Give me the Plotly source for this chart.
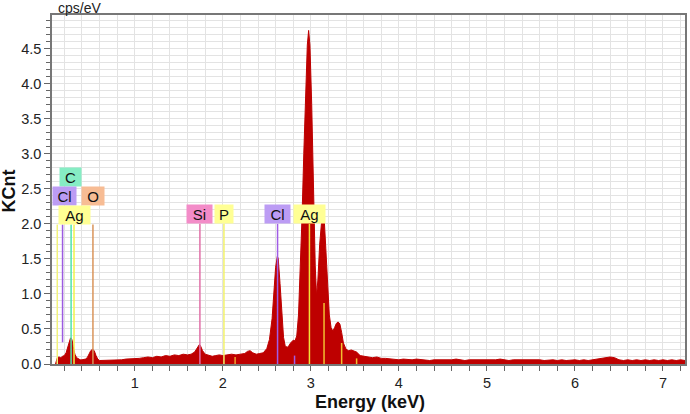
import plotly.graph_objects as go

# ---- spectrum ----
energy = [0.10, 0.12, 0.14, 0.16, 0.18, 0.20, 0.22, 0.24, 0.26, 0.27, 0.28, 0.29, 0.30, 0.32, 0.34,
          0.36, 0.38, 0.40, 0.42, 0.44, 0.46, 0.48, 0.50, 0.52, 0.54, 0.56, 0.58, 0.60, 0.65, 0.70,
          0.75, 0.80, 0.85, 0.90, 0.95, 1.00, 1.05, 1.10, 1.15, 1.20, 1.25, 1.30, 1.35, 1.40, 1.45,
          1.50, 1.55, 1.60, 1.64, 1.68, 1.70, 1.72, 1.735, 1.75, 1.77, 1.80, 1.84, 1.88, 1.92, 1.96,
          2.00, 2.05, 2.10, 2.15, 2.20, 2.25, 2.28, 2.31, 2.34, 2.38, 2.42, 2.46, 2.50, 2.53, 2.56,
          2.58, 2.60, 2.62, 2.63, 2.65, 2.67, 2.69, 2.71, 2.74, 2.77, 2.80, 2.82, 2.84, 2.86, 2.88,
          2.90, 2.92, 2.94, 2.96, 2.975, 2.99, 3.01, 3.03, 3.05, 3.065, 3.08, 3.10, 3.12, 3.14, 3.155,
          3.17, 3.19, 3.21, 3.23, 3.25, 3.27, 3.29, 3.31, 3.33, 3.35, 3.37, 3.40, 3.43, 3.46, 3.49,
          3.52, 3.56, 3.60, 3.65, 3.70, 3.75, 3.80, 3.85, 3.90, 3.95, 4.00, 4.05, 4.10, 4.15, 4.20,
          4.25, 4.30, 4.35, 4.40, 4.45, 4.50, 4.55, 4.60, 4.65, 4.70, 4.75, 4.80, 4.85, 4.90, 4.95,
          5.00, 5.05, 5.10, 5.15, 5.20, 5.25, 5.30, 5.35, 5.40, 5.45, 5.50, 5.55, 5.60, 5.65, 5.70,
          5.75, 5.80, 5.85, 5.90, 5.95, 6.00, 6.05, 6.10, 6.15, 6.20, 6.25, 6.30, 6.35, 6.40, 6.45,
          6.50, 6.55, 6.60, 6.65, 6.70, 6.75, 6.80, 6.85, 6.90, 6.95, 7.00, 7.05, 7.10, 7.15, 7.20,
          7.25]
kcnt = [0.00, 0.09, 0.10, 0.09, 0.11, 0.12, 0.16, 0.24, 0.33, 0.37, 0.37, 0.33, 0.25, 0.14, 0.09,
        0.07, 0.06, 0.06, 0.06, 0.07, 0.09, 0.14, 0.19, 0.21, 0.19, 0.12, 0.07, 0.05, 0.05, 0.06,
        0.05, 0.06, 0.06, 0.07, 0.07, 0.08, 0.08, 0.09, 0.10, 0.09, 0.11, 0.10, 0.12, 0.11, 0.13,
        0.12, 0.14, 0.13, 0.14, 0.17, 0.21, 0.26, 0.28, 0.25, 0.19, 0.14, 0.12, 0.11, 0.12, 0.13,
        0.12, 0.13, 0.14, 0.13, 0.14, 0.15, 0.18, 0.19, 0.16, 0.14, 0.15, 0.16, 0.22, 0.35, 0.65,
        1.00, 1.38, 1.54, 1.50, 1.15, 0.70, 0.38, 0.25, 0.24, 0.30, 0.34, 0.33, 0.40, 0.70, 1.30,
        2.10, 3.00, 3.90, 4.55, 4.76, 4.55, 3.70, 2.50, 1.40, 0.97, 1.20, 1.70, 2.00, 2.10, 2.00,
        1.65, 1.05, 0.70, 0.52, 0.47, 0.52, 0.58, 0.60, 0.57, 0.45, 0.30, 0.21, 0.19, 0.20, 0.19,
        0.17, 0.12, 0.11, 0.10, 0.09, 0.10, 0.08, 0.08, 0.07, 0.07, 0.06, 0.07, 0.06, 0.06, 0.07,
        0.06, 0.06, 0.05, 0.06, 0.06, 0.05, 0.06, 0.06, 0.07, 0.06, 0.05, 0.06, 0.06, 0.05, 0.06,
        0.06, 0.05, 0.06, 0.07, 0.06, 0.05, 0.06, 0.06, 0.07, 0.06, 0.07, 0.06, 0.06, 0.05, 0.06,
        0.06, 0.05, 0.06, 0.05, 0.06, 0.06, 0.05, 0.06, 0.05, 0.06, 0.06, 0.07, 0.09, 0.10, 0.09,
        0.06, 0.05, 0.06, 0.05, 0.06, 0.05, 0.06, 0.05, 0.06, 0.05, 0.06, 0.05, 0.06, 0.05, 0.06,
        0.05]

# ---- element marker lines: energy, top, bottom, colour ----
line_energy = [0.12, 0.18, 0.277, 0.31, 0.525, 1.74, 2.013, 2.622, 2.984, 3.15, 3.35, 2.815, 2.14, 3.52]
line_top = [1.99, 1.99, 1.99, 1.99, 1.99, 2.0, 2.0, 2.0, 2.0, 0.87, 0.30, 0.12, 0.10, 0.08]
line_bottom = [0, 0.31, 0, 0, 0, 0, 0, 0, 0, 0, 0, 0, 0, 0]
line_color = ["#F2F27A", "#9B5BE0", "#4FE3AE", "#F2F24A", "#D9945A", "#E070A8", "#F2F26A",
              "#A05CE6", "#F2E23A", "#F2C030", "#F2C030", "#A05CE6", "#F2A030", "#F2C030"]

# ---- element labels ----
label_text = ["C", "Cl", "O", "Ag", "Si", "P", "Cl", "Ag"]
label_x = [0.275, 0.205, 0.52, 0.31, 1.74, 2.01, 2.62, 2.98]
label_y = [2.67, 2.40, 2.40, 2.13, 2.14, 2.14, 2.14, 2.14]
label_w = [21, 23, 22, 31, 25, 18, 25, 31]
label_bg = ["#86EDC4", "#BC9CF4", "#F7BC94", "#FFFF94", "#F38CC8", "#FFFF94", "#BC9CF4", "#FFFF94"]

FONT = "Liberation Sans, Arial, sans-serif"

fig = go.Figure()
fig.add_trace(go.Scatter(x=energy, y=kcnt, mode="lines", fill="tozeroy",
                         line=dict(color="#BE0000", width=1), fillcolor="#BE0000",
                         hoverinfo="skip", showlegend=False))
for e, t, b, c in zip(line_energy, line_top, line_bottom, line_color):
    fig.add_trace(go.Scatter(x=[e, e], y=[b, t], mode="lines", line=dict(color=c, width=1.5),
                             hoverinfo="skip", showlegend=False))

for t, x, y, w, bg in zip(label_text, label_x, label_y, label_w, label_bg):
    fig.add_annotation(x=x, y=y, xref="x", yref="y", text=t, showarrow=False,
                       xanchor="center", yanchor="middle",
                       bgcolor=bg, width=w, height=18, borderpad=0,
                       font=dict(family=FONT, size=15, color="#111"))

fig.add_annotation(x=0.044, y=1.021, xref="paper", yref="paper", xanchor="center",
                   yanchor="middle", text="cps/eV", showarrow=False, borderpad=0,
                   font=dict(family=FONT, size=14, color="#222"))
fig.add_annotation(x=-0.0685, y=0.496, xref="paper", yref="paper", xanchor="center",
                   yanchor="middle", text="<b>KCnt</b>", textangle=-90, showarrow=False,
                   font=dict(family=FONT, size=18, color="#111"))
fig.add_annotation(x=0.502, y=-0.109, xref="paper", yref="paper", xanchor="center",
                   yanchor="middle", text="<b>Energy (keV)</b>", showarrow=False,
                   font=dict(family=FONT, size=18, color="#111"))

grid = "#E3E3E3"
fig.update_layout(
    width=690, height=414,
    margin=dict(l=52, r=3, t=15, b=50),
    paper_bgcolor="white", plot_bgcolor="white",
    font=dict(family=FONT, size=14.5, color="#222"),
    xaxis=dict(range=[0.06, 7.25], dtick=1, tick0=0, showgrid=True, gridcolor=grid, gridwidth=1,
               ticks="outside", ticklen=5, tickcolor="#666", tickwidth=1.2,
               showline=True, linecolor="#777", linewidth=1.5, mirror=True, zeroline=False,
               minor=dict(dtick=0.2, tick0=0, ticks="outside", ticklen=5, tickcolor="#666",
                          showgrid=True, gridcolor=grid, gridwidth=1),
               tickfont=dict(family=FONT, size=14.5, color="#222")),
    yaxis=dict(range=[0, 4.98], dtick=0.5, tick0=0, tickformat=".1f", showgrid=True,
               gridcolor=grid, gridwidth=1, ticks="outside", ticklen=6, tickcolor="#666",
               tickwidth=1.2, showline=True, linecolor="#777", linewidth=1.5, mirror=True,
               zeroline=False,
               minor=dict(dtick=0.1, tick0=0, ticks="outside", ticklen=4, tickcolor="#666",
                          showgrid=True, gridcolor=grid, gridwidth=1),
               tickfont=dict(family=FONT, size=14.5, color="#222")),
)

fig.write_html("out.html", config={"displayModeBar": False},
               post_script="document.body.style.margin='0';document.body.style.overflow='hidden';")
